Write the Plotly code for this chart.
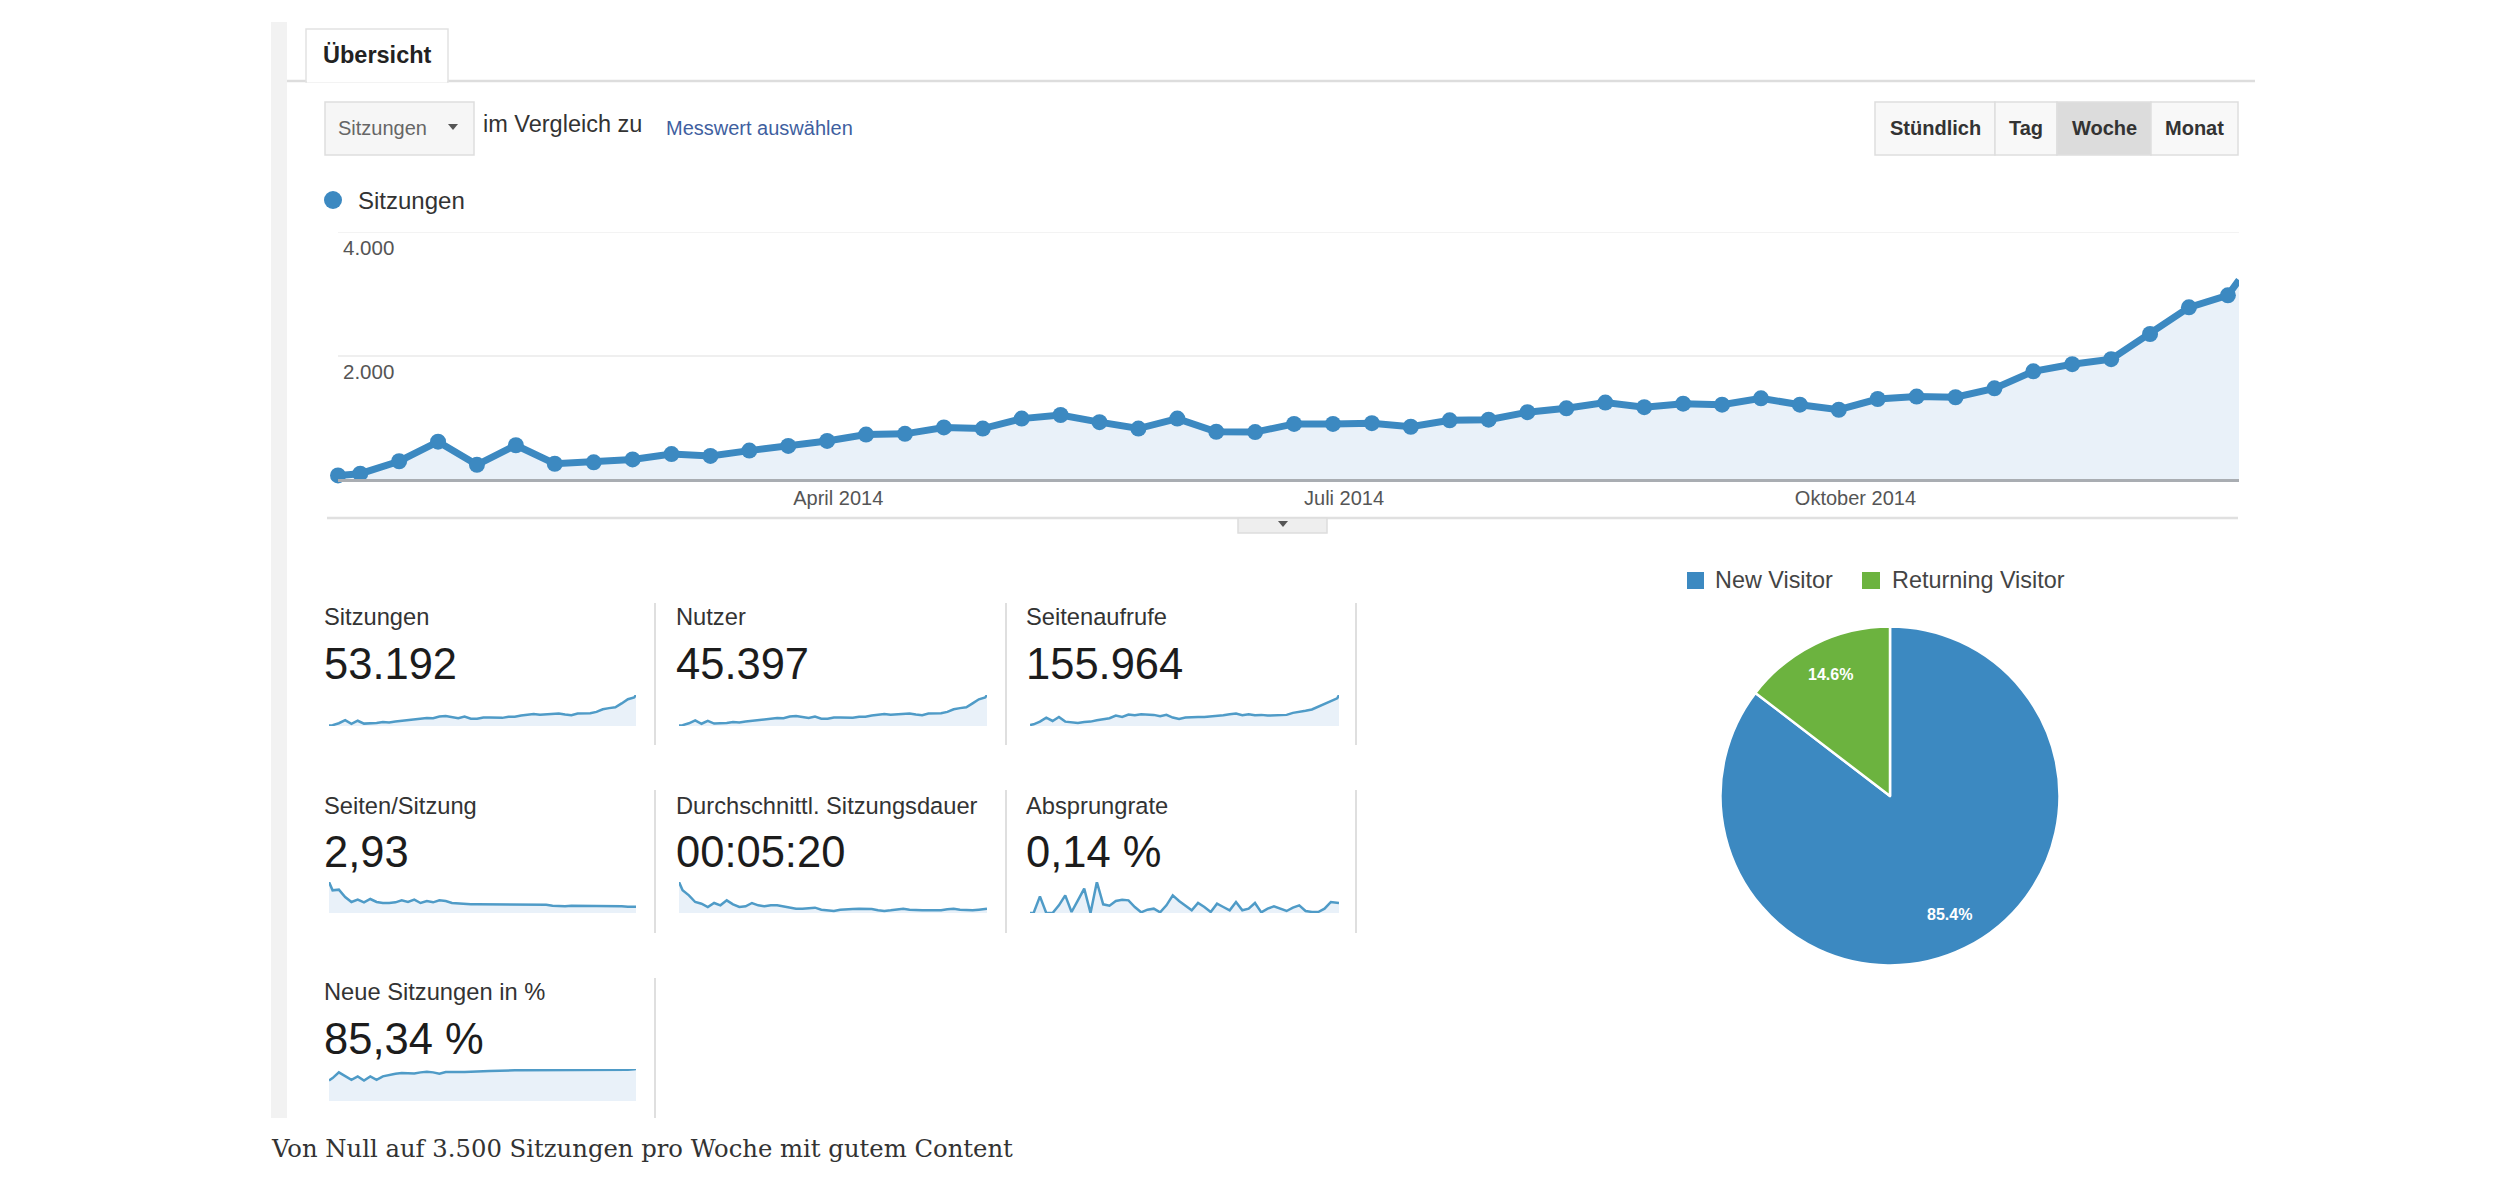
import math
import plotly.graph_objects as go

W, H = 2496, 1196

# ---------- data ----------
week_dates = [
    "2014-01-01", "2014-01-05", "2014-01-12", "2014-01-19", "2014-01-26",
    "2014-02-02", "2014-02-09", "2014-02-16", "2014-02-23",
    "2014-03-02", "2014-03-09", "2014-03-16", "2014-03-23", "2014-03-30",
    "2014-04-06", "2014-04-13", "2014-04-20", "2014-04-27",
    "2014-05-04", "2014-05-11", "2014-05-18", "2014-05-25",
    "2014-06-01", "2014-06-08", "2014-06-15", "2014-06-22", "2014-06-29",
    "2014-07-06", "2014-07-13", "2014-07-20", "2014-07-27",
    "2014-08-03", "2014-08-10", "2014-08-17", "2014-08-24", "2014-08-31",
    "2014-09-07", "2014-09-14", "2014-09-21", "2014-09-28",
    "2014-10-05", "2014-10-12", "2014-10-19", "2014-10-26",
    "2014-11-02", "2014-11-09", "2014-11-16", "2014-11-23", "2014-11-30",
    "2014-12-07", "2014-12-09",
]
sessions = [58, 86, 288, 604, 230, 547, 247, 270, 317, 403, 374, 460, 535, 616, 719, 731, 835,
            817, 978, 1036, 921, 817, 978, 765, 760, 892, 892, 904, 846, 950, 961, 1082, 1145,
            1237, 1163, 1220, 1203, 1306, 1203, 1122, 1295, 1335, 1324, 1468, 1744, 1859, 1940,
            2348, 2780, 2975, 3223]
users = [50, 75, 240, 500, 200, 450, 215, 235, 270, 345, 320, 395, 460, 525, 610, 625, 710,
         690, 830, 880, 780, 700, 830, 650, 650, 760, 760, 770, 720, 810, 820, 920, 975,
         1050, 990, 1040, 1025, 1110, 1020, 950, 1100, 1135, 1125, 1250, 1480, 1580, 1650,
         2000, 2360, 2530, 2740]
pageviews = [277, 462, 1201, 2310, 1386, 2495, 1201, 1109, 832, 1109, 1201, 1571, 1940, 2125,
             2864, 2495, 3142, 2957, 3234, 3234, 3049, 2680, 3049, 2310, 1940, 2310, 2495, 2495,
             2495, 2587, 2864, 2957, 3234, 3419, 2957, 3234, 2957, 3049, 2864, 2957, 2957, 3049,
             3604, 3788, 4158, 4528, 5267, 6006, 6930, 7577, 8500]
pages_per_session = [13.95, 10.2, 10.5, 7.2, 4.95, 6, 4.8, 6.3, 4.95, 4.5, 4.5, 4.8, 5.7, 4.95, 6,
                     4.5, 5.4, 4.8, 5.7, 5.4, 4.5, 4.2, 3.9, 3.9, 3.9, 3.9, 3.9, 3.9, 3.9, 3.9,
                     3.9, 3.9, 3.75, 3.75, 3.75, 3.75, 3.3, 3.0, 3.0, 3.3, 3.3, 3.3, 3.3, 3.15,
                     3.15, 3.3, 3.15, 3.0, 2.85, 2.85, 2.85]
avg_duration = [2325, 1700, 1325, 825, 700, 450, 750, 575, 950, 650, 450, 500, 750, 575, 500,
                575, 575, 500, 450, 325, 325, 375, 400, 250, 200, 150, 250, 300, 300, 325, 325,
                300, 200, 150, 200, 275, 325, 250, 200, 200, 200, 200, 200, 275, 325, 250, 200,
                200, 250, 275, 325]
bounce_rate = [0, 0, 0.40, 0, 0, 0.184, 0.424, 0.024, 0.304, 0.584, 0, 0.744, 0.208, 0.176, 0.288,
               0.32, 0.304, 0.144, 0.016, 0.08, 0.104, 0.016, 0.184, 0.424, 0.288, 0.184, 0.064,
               0.24, 0.144, 0.024, 0.224, 0.144, 0.064, 0.264, 0.064, 0.104, 0.24, 0.016, 0.104,
               0.16, 0.104, 0.048, 0.128, 0.184, 0.048, 0.024, 0.024, 0.104, 0.264, 0.24, 0.24]
new_sessions = [58.6, 65.3, 81.6, 72, 60.5, 70.1, 58.6, 70.1, 60.5, 70.1, 74.9, 77.8, 79.7, 79.7,
                78.7, 81.6, 83.5, 81.6, 77.8, 82.6, 81.6, 82.6, 82.6, 82.6, 83.5, 84.5, 85.4, 86.4,
                86.4, 86.4, 87.4, 87.4, 87.4, 88.3, 89.3, 89.3, 89.3, 88.3, 88.3, 88.3, 88.3, 88.3,
                89.3, 89.3, 89.3, 89.3, 89.3, 89.3, 89.3, 90.2, 91.2]
metric_names = ["Sitzungen", "Nutzer", "Seitenaufrufe", "Seiten/Sitzung",
                "Durchschnittl. Sitzungsdauer", "Absprungrate", "Neue Sitzungen in %"]
metric_values = ["53.192", "45.397", "155.964", "2,93", "00:05:20", "0,14 %", "85,34 %"]
metric_series = [sessions, users, pageviews, pages_per_session, avg_duration, bounce_rate, new_sessions]
pie_labels = ["New Visitor", "Returning Visitor"]
pie_values = [85.4, 14.6]
y_ticks = [2000, 4000]
y_tick_labels = ["2.000", "4.000"]
x_ticks = ["2014-04-01", "2014-07-01", "2014-10-01"]
x_tick_labels = ["April 2014", "Juli 2014", "Oktober 2014"]
buttons = ["Stündlich", "Tag", "Woche", "Monat"]

# ---------- style ----------
SANS = "Liberation Sans, Arial, sans-serif"
SERIF = "DejaVu Serif, serif"
BLUE = "#3c89c1"
GREEN = "#6cb33f"
FILL = "#e9f1f9"
SPARK = "#4f9bc7"
X_RANGE = [week_dates[0], week_dates[-1]]
TEXT_SHIFT = 1.5


def X(p):
    return p / W


def Y(p):
    return 1 - p / H


annotations = []
shapes = []


def label(x, y, text, size, color="#333333", bold=False, anchor="left", family=SANS):
    t = f"<b>{text}</b>" if bold else text
    annotations.append(dict(x=X(x), y=Y(y - TEXT_SHIFT), xref="paper", yref="paper", text=t, showarrow=False,
                            xanchor=anchor, yanchor="middle", borderpad=0, borderwidth=0,
                            font=dict(family=family, size=size, color=color)))


def rect(x0, y0, x1, y1, fill="rgba(0,0,0,0)", line="rgba(0,0,0,0)", lw=1.5):
    shapes.append(dict(type="rect", xref="paper", yref="paper", x0=X(x0), x1=X(x1), y0=Y(y0), y1=Y(y1),
                       fillcolor=fill, line=dict(color=line, width=lw), layer="below"))


def hline(x0, x1, y, color="#dddddd", lw=2.5):
    shapes.append(dict(type="line", xref="paper", yref="paper", x0=X(x0), x1=X(x1), y0=Y(y), y1=Y(y),
                       line=dict(color=color, width=lw), layer="below"))


def vline(x, y0, y1, color="#d4d4d4", lw=1.5):
    shapes.append(dict(type="line", xref="paper", yref="paper", x0=X(x), x1=X(x), y0=Y(y0), y1=Y(y1),
                       line=dict(color=color, width=lw), layer="below"))


def triangle(cx, cy, w, h, color="#555555"):
    path = f"M {X(cx - w / 2)} {Y(cy - h / 2)} L {X(cx + w / 2)} {Y(cy - h / 2)} L {X(cx)} {Y(cy + h / 2)} Z"
    shapes.append(dict(type="path", xref="paper", yref="paper", path=path, fillcolor=color,
                       line=dict(width=0), layer="above"))


fig = go.Figure()

# ---------- page chrome ----------
rect(271, 22, 287, 1118, fill="#f2f2f2")
hline(287, 2255, 81)
rect(306, 29, 448, 82, fill="#ffffff", line="#e2e2e2")
hline(307, 447, 81, color="#ffffff", lw=3)
label(377, 56, "Übersicht", 23.5, "#222222", bold=True, anchor="center")

rect(325, 102, 474, 155, fill="#f6f6f6", line="#dedede")
label(338, 129, "Sitzungen", 20, "#666666")
triangle(453, 127, 10, 6)
label(483, 126, "im Vergleich zu", 23.5, "#333333")
label(666, 129, "Messwert auswählen", 20, "#3f5f9f")

btn_edges = [1875, 1995, 2057, 2151, 2238]
for i, name in enumerate(buttons):
    active = name == "Woche"
    rect(btn_edges[i], 102, btn_edges[i + 1], 155, fill="#dcdcdc" if active else "#f8f8f8", line="#dedede")
    label((btn_edges[i] + btn_edges[i + 1]) / 2, 130, name, 20, "#333333", bold=True, anchor="center")

shapes.append(dict(type="circle", xref="paper", yref="paper", x0=X(324), x1=X(342), y0=Y(191), y1=Y(209),
                   fillcolor=BLUE, line=dict(width=0)))
label(358, 202, "Sitzungen", 24, "#333333")

hline(327, 2238, 518, color="#e0e0e0")
rect(1238, 518, 1327, 533, fill="#eeeeee", line="#dddddd")
triangle(1283, 524, 10, 6)

# ---------- main chart ----------
marker_sizes = [16] * (len(sessions) - 1) + [0]
fig.add_trace(go.Scatter(x=week_dates, y=sessions, mode="lines+markers", name="Sitzungen",
                         fill="tozeroy", fillcolor=FILL, cliponaxis=False,
                         line=dict(color=BLUE, width=7),
                         marker=dict(color=BLUE, size=marker_sizes, opacity=1, line=dict(width=0)),
                         showlegend=False, hoverinfo="skip"))
layout_axes = dict(
    xaxis=dict(domain=[X(338), X(2239)], range=X_RANGE, type="date", tickvals=x_ticks, ticktext=x_tick_labels,
               ticks="", ticklabelstandoff=-1, showgrid=False, zeroline=False,
               showline=True, linecolor="#a9adb2", linewidth=3,
               tickfont=dict(family=SANS, size=20, color="#555555"), anchor="y"),
    yaxis=dict(domain=[Y(479), Y(232)], range=[0, 4000], tickvals=y_ticks, showticklabels=False,
               gridcolor="#efefef", gridwidth=1.5, zeroline=False, showline=False, anchor="x"),
)
shapes.append(dict(type="line", xref="x domain", yref="y", x0=0, x1=1, y0=4000, y1=4000,
                   line=dict(color="#efefef", width=1.5), layer="below"))
for v, t in zip(y_ticks, y_tick_labels):
    annotations.append(dict(x=X(341), y=v, xref="paper", yref="y", text=t, showarrow=False, xanchor="left",
                            yanchor="middle", yshift=-16, font=dict(family=SANS, size=20.5, color="#555555")))

# ---------- metric tiles ----------
col_left = [324, 676, 1026]
col_spark = [(329, 636), (679, 987), (1030, 1339)]
col_sep = [655, 1006, 1356]
rows = [
    dict(name=618, value=665, top=695, base=726, sep=(603, 745)),
    dict(name=807, value=853, top=882, base=913, sep=(790, 933)),
    dict(name=993, value=1040, top=1069, base=1101, sep=(978, 1118)),
]
for i, (name, val, series) in enumerate(zip(metric_names, metric_values, metric_series)):
    r, c = i // 3, i % 3
    row = rows[r]
    label(col_left[c], row["name"], name, 23.7, "#333333")
    label(col_left[c], row["value"], val, 43.5, "#1c1c1c")
    vline(col_sep[c], *row["sep"])
    n = i + 2
    fig.add_trace(go.Scatter(x=week_dates, y=series, mode="lines", fill="tozeroy", fillcolor=FILL,
                             line=dict(color=SPARK, width=2.5), xaxis=f"x{n}", yaxis=f"y{n}",
                             showlegend=False, hoverinfo="skip", cliponaxis=False))
    layout_axes[f"xaxis{n}"] = dict(domain=[X(col_spark[c][0]), X(col_spark[c][1])], range=X_RANGE, type="date",
                                    visible=False, anchor=f"y{n}")
    layout_axes[f"yaxis{n}"] = dict(domain=[Y(row["base"]), Y(row["top"])], range=[0, max(series)],
                                    visible=False, anchor=f"x{n}")

# ---------- pie ----------
PIE_CX, PIE_CY, PIE_R = 1890, 796, 169.5
fig.add_trace(go.Pie(labels=pie_labels, values=pie_values, sort=False, direction="clockwise", rotation=0,
                     textinfo="none", showlegend=False, hoverinfo="skip",
                     marker=dict(colors=[BLUE, GREEN], line=dict(color="#ffffff", width=2.5)),
                     domain=dict(x=[X(PIE_CX - PIE_R), X(PIE_CX + PIE_R)], y=[Y(PIE_CY + PIE_R), Y(PIE_CY - PIE_R)])))
total = sum(pie_values)
start = 0.0
for v in pie_values:
    mid = (start + v / 2) / total * 2 * math.pi
    start += v
    label(PIE_CX + 0.79 * PIE_R * math.sin(mid), PIE_CY - 0.79 * PIE_R * math.cos(mid), f"{v}%", 16, "#ffffff",
          bold=True, anchor="center")
rect(1687, 572, 1704, 589, fill=BLUE)
label(1715, 582, pie_labels[0], 23.4, "#444444")
rect(1862, 572, 1880, 589, fill=GREEN)
label(1892, 582, pie_labels[1], 23.4, "#444444")

# ---------- caption ----------
label(271, 1150, "Von Null auf 3.500 Sitzungen pro Woche mit gutem Content", 24.3, "#333333", family=SERIF)

fig.update_layout(width=W, height=H, margin=dict(l=0, r=0, t=0, b=0, pad=0), paper_bgcolor="#ffffff",
                  plot_bgcolor="rgba(0,0,0,0)", showlegend=False, annotations=annotations, shapes=shapes,
                  **layout_axes)
fig.write_html("out.html", config={"displayModeBar": False},
               post_script="document.body.style.margin='0';document.body.style.overflow='hidden';")
